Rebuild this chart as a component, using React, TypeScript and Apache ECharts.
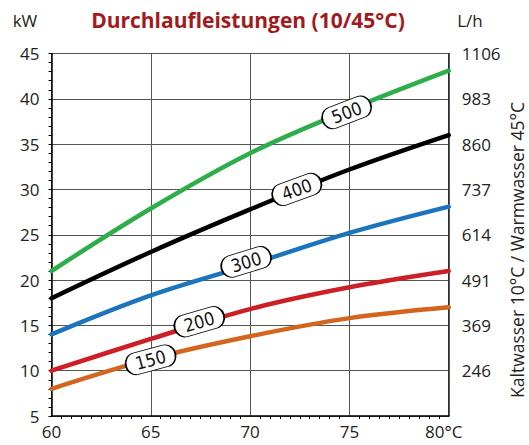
import React, { useEffect, useRef } from "react";
import * as echarts from "echarts";

const xValues = [60, 65, 70, 75, 80];
const flow500 = [21, 27.9, 34.0, 38.8, 43.1];
const flow400 = [18, 23.1, 27.8, 32.2, 36.0];
const flow300 = [14, 18.3, 21.7, 25.2, 28.1];
const flow200 = [10, 13.5, 16.8, 19.2, 21.0];
const flow150 = [8, 11.3, 13.8, 15.8, 17.0];

const seriesNames = ["500", "400", "300", "200", "150"];
const seriesColors = ["#2DAE4A", "#000000", "#1C75BC", "#CC1F26", "#D2661E"];
// label anchor [x, kW] and angle for each curve tag
const tagX = [74.86, 72.35, 69.8, 67.44, 64.99];
const tagY = [38.5, 30.0, 22.0, 15.4, 11.2];
const tagAngle = [21, 20, 17, 16, 15];

const rightTickLabels = ["", "246", "369", "491", "614", "737", "860", "983", "1106"];

const PILL = "path://M10,0 L40,0 A10,10 0 0 1 40,20 L10,20 A10,10 0 0 1 10,0 Z";

export default function App() {
  const ref = useRef<HTMLDivElement>(null);
  useEffect(() => {
    if (!ref.current) return;
    const chart = echarts.init(ref.current, null, { renderer: "svg" });
    const all = [flow500, flow400, flow300, flow200, flow150];
    const font = "'Open Sans', 'Noto Sans', sans-serif";
    const series = all.map((vals, i) => ({
      type: "line",
      name: seriesNames[i],
      data: xValues.map((x, j) => [x, vals[j]]),
      smooth: 0.35,
      showSymbol: false,
      symbol: "none",
      silent: true,
      lineStyle: { color: seriesColors[i], width: 4.5, cap: "round" },
      z: 3,
      markPoint: {
        silent: true,
        symbol: PILL,
        symbolSize: [51, 22],
        symbolRotate: tagAngle[i],
        itemStyle: { color: "#ffffff", borderColor: "#000000", borderWidth: 1.2 },
        label: {
          show: true,
          position: "inside",
          rotate: tagAngle[i],
          formatter: seriesNames[i],
          color: "#111",
          fontSize: 18,
          fontFamily: "'Liberation Sans Narrow', 'DejaVu Sans Condensed', sans-serif",
        },
        data: [{ coord: [tagX[i], tagY[i]] }],
        z: 10,
      },
    }));
    chart.setOption({
      animation: false,
      grid: { left: 51.5, right: 80.3, top: 53.5, bottom: 29, containLabel: false },
      xAxis: {
        type: "value",
        min: 60,
        max: 80,
        interval: 5,
        axisLine: { show: true, lineStyle: { color: "#000", width: 1.5 } },
        axisTick: { show: false },
        minorTick: { show: true, splitNumber: 10, length: 3, lineStyle: { color: "#000", width: 1 } },
        splitLine: { show: true, lineStyle: { color: "#555", width: 1 } },
        axisLabel: {
          margin: 7,
          color: "#222",
          fontSize: 17,
          fontFamily: font,
          formatter: (v: number) => (v === 80 ? "{a|80°C}" : String(v)),
          rich: { a: { fontSize: 17, fontFamily: font, color: "#222", padding: [0, 10, 0, 0] } },
        },
      },
      yAxis: [
        {
          type: "value",
          min: 5,
          max: 45,
          interval: 5,
          axisLine: { show: true, lineStyle: { color: "#000", width: 1.5 } },
          axisTick: { show: true, length: 3, lineStyle: { color: "#000" } },
          minorTick: { show: true, splitNumber: 5, length: 3, lineStyle: { color: "#000" } },
          splitLine: { show: true, lineStyle: { color: "#555", width: 1 } },
          axisLabel: { margin: 12, color: "#222", fontSize: 17, fontFamily: font },
        },
        {
          type: "value",
          position: "right",
          min: 5,
          max: 45,
          interval: 5,
          axisLine: { show: true, lineStyle: { color: "#222", width: 1.5 } },
          axisTick: { show: false },
          splitLine: { show: false },
          axisLabel: {
            margin: 13,
            color: "#222",
            fontSize: 17,
            fontFamily: font,
            formatter: (v: number) => rightTickLabels[Math.round((v - 5) / 5)] ?? "",
          },
        },
      ],
      graphic: [
        {
          type: "text",
          x: 248,
          y: 20,
          style: {
            text: "Durchlaufleistungen (10/45°C)",
            fontSize: 21,
            fontWeight: "bold",
            fontFamily: font,
            fill: "#A11B1E",
            align: "center",
            verticalAlign: "middle",
          },
        },
        {
          type: "text",
          x: 25,
          y: 20,
          style: { text: "kW", fontSize: 17, fontFamily: font, fill: "#222", align: "center", verticalAlign: "middle" },
        },
        {
          type: "text",
          x: 470,
          y: 20,
          style: { text: "L/h", fontSize: 17, fontFamily: font, fill: "#222", align: "center", verticalAlign: "middle" },
        },
        {
          type: "text",
          x: 517,
          y: 250,
          rotation: Math.PI / 2,
          style: {
            text: "Kaltwasser 10°C / Warmwasser 45°C",
            fontSize: 17.5,
            fontFamily: font,
            fill: "#222",
            align: "center",
            verticalAlign: "middle",
          },
        },
      ],
      series,
    });
    return () => chart.dispose();
  }, []);
  return (
    <div
      ref={ref}
      style={{ position: "fixed", left: 0, top: 0, width: 529, height: 445, background: "#fff" }}
    />
  );
}
